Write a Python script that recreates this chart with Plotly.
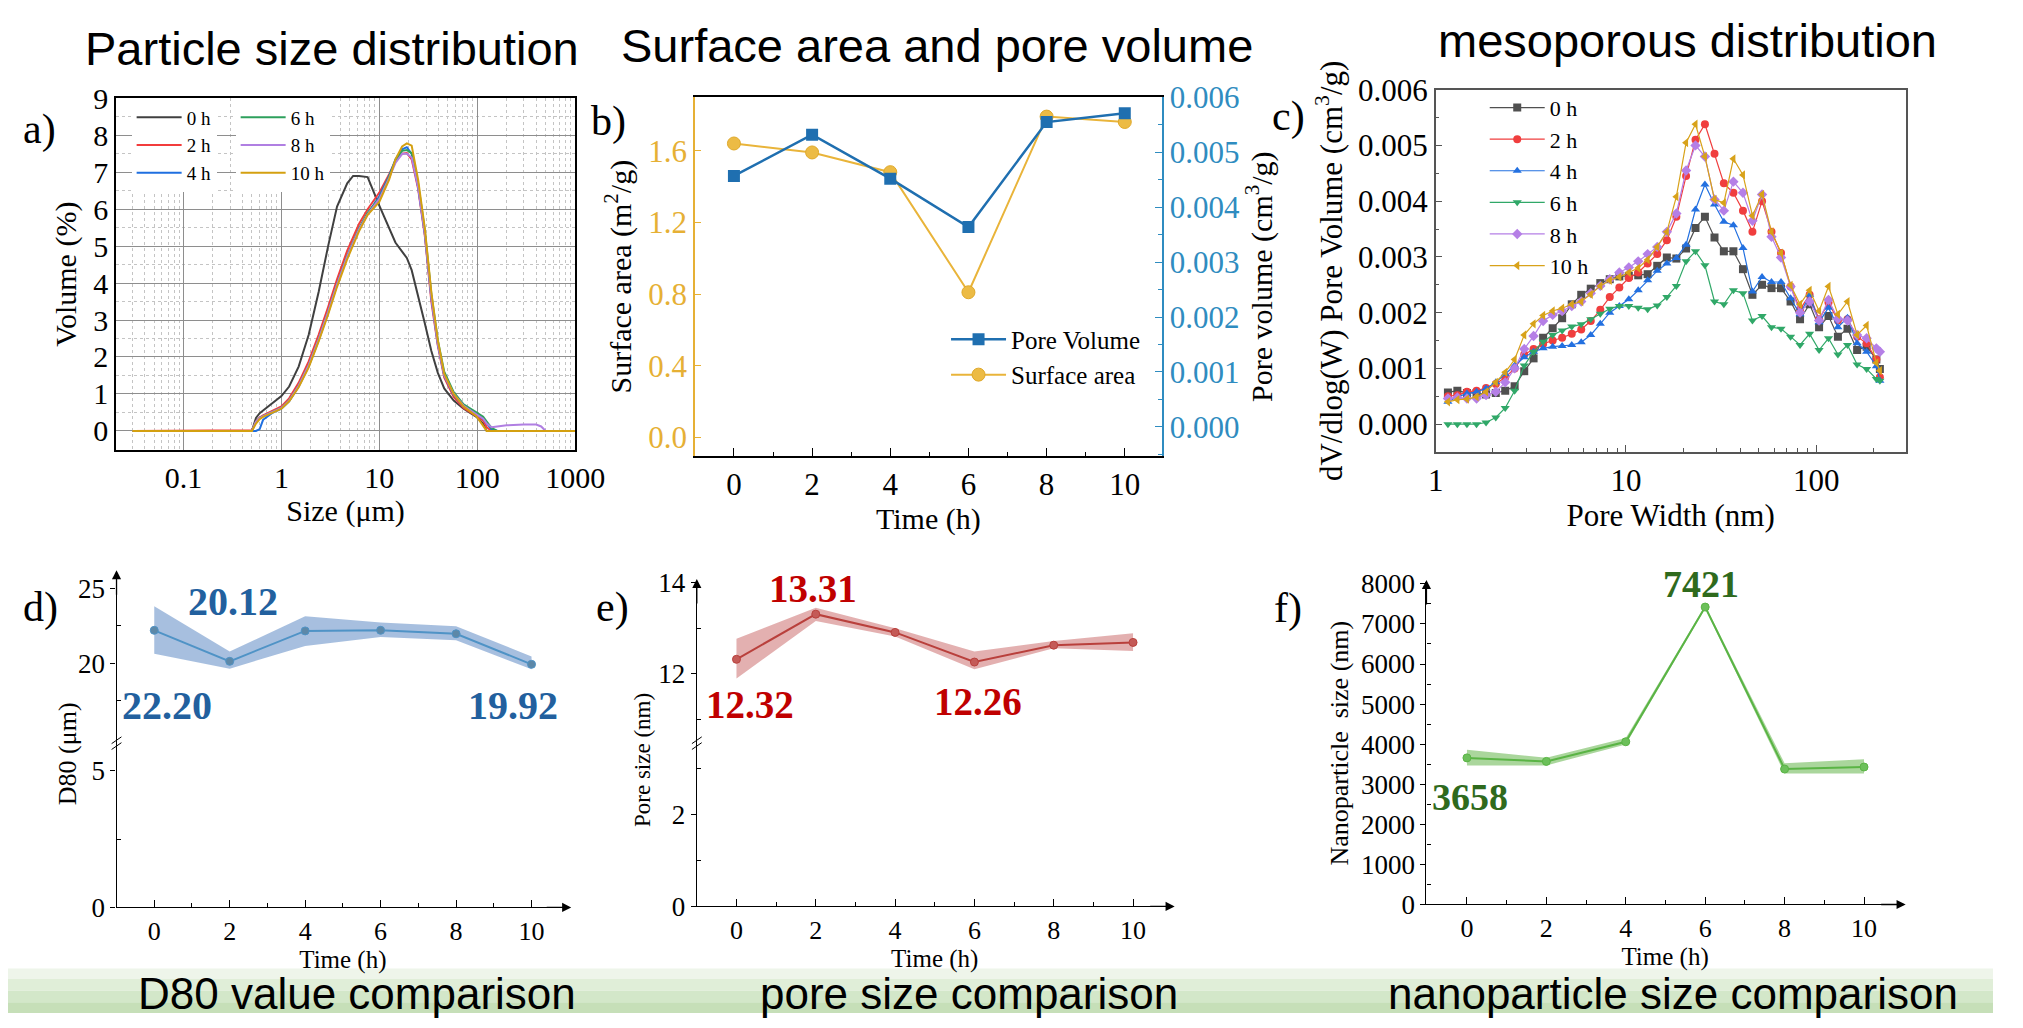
import plotly.graph_objects as go

W, H = 2023, 1028
def px(x): return x / W
def py(y): return 1 - y / H

SERIF = "Liberation Serif, Times New Roman, serif"
SANS = "Liberation Sans, Arial, sans-serif"

# ---------------- data ----------------
hour_labels = ["0 h", "2 h", "4 h", "6 h", "8 h", "10 h"]

# (a) particle size distribution
size_um = [0.03, 0.1, 0.3, 0.5, 0.55, 0.6, 0.65, 0.8, 1.0, 1.2, 1.5, 1.9, 2.4, 3.0, 3.7, 4.7, 5.4, 6.2, 7.6, 10,
           12.6, 14.6, 17.1, 19.1, 21.4, 24.9, 29.1, 34, 39.6, 46, 57.5, 72.6, 98, 115, 125, 140, 160, 200, 300, 400,
           450, 500, 1000]
vol_0h = [0, 0, 0, 0, 0.35, 0.48, 0.55, 0.75, 0.94, 1.2, 1.74, 2.6, 3.76, 5.0, 6.07, 6.7, 6.9, 6.9, 6.87, 6.1,
          5.5, 5.1, 4.85, 4.68, 4.35, 3.67, 2.92, 2.16, 1.57, 1.15, 0.82, 0.6, 0.38, 0.2, 0, 0, 0, 0, 0, 0, 0, 0, 0]
vol_2h = [0, 0, 0, 0.02, 0.25, 0.36, 0.42, 0.53, 0.66, 0.88, 1.3, 1.88, 2.6, 3.35, 4.1, 4.88, 5.25, 5.6, 6.0, 6.45,
          6.95, 7.3, 7.5, 7.52, 7.35, 6.55, 5.3, 3.5, 2.3, 1.45, 0.92, 0.62, 0.4, 0.28, 0.1, 0, 0, 0, 0, 0, 0, 0, 0]
vol_4h = [0, 0, 0, 0, 0, 0.05, 0.3, 0.48, 0.6, 0.8, 1.2, 1.75, 2.45, 3.2, 3.95, 4.72, 5.1, 5.45, 5.88, 6.35,
          6.9, 7.35, 7.62, 7.68, 7.5, 6.6, 5.35, 3.6, 2.35, 1.5, 0.98, 0.66, 0.45, 0.33, 0.2, 0.05, 0, 0, 0, 0, 0, 0, 0]
vol_6h = [0, 0, 0, 0, 0.25, 0.35, 0.4, 0.5, 0.62, 0.82, 1.22, 1.78, 2.48, 3.22, 3.97, 4.74, 5.12, 5.48, 5.9, 6.3,
          6.88, 7.3, 7.58, 7.6, 7.52, 6.7, 5.45, 3.7, 2.45, 1.6, 1.05, 0.72, 0.5, 0.38, 0.25, 0.08, 0, 0, 0, 0, 0, 0, 0]
vol_8h = [0, 0, 0, 0, 0.25, 0.35, 0.4, 0.5, 0.62, 0.82, 1.22, 1.78, 2.48, 3.22, 3.97, 4.72, 5.1, 5.45, 5.86, 6.28,
          6.85, 7.25, 7.5, 7.5, 7.4, 6.6, 5.35, 3.6, 2.35, 1.5, 1.0, 0.68, 0.45, 0.33, 0.2, 0.1, 0.12, 0.15, 0.17, 0.17,
          0.12, 0, 0]
vol_10h = [0, 0, 0, 0, 0.2, 0.32, 0.38, 0.48, 0.6, 0.8, 1.18, 1.72, 2.42, 3.15, 3.9, 4.65, 5.05, 5.4, 5.85, 6.2,
           6.8, 7.35, 7.7, 7.78, 7.72, 6.8, 5.5, 3.75, 2.45, 1.55, 1.0, 0.66, 0.4, 0.15, 0, 0, 0, 0, 0, 0, 0, 0, 0]

# (b) surface area and pore volume
time_h = [0, 2, 4, 6, 8, 10]
surface_area = [1.64, 1.59, 1.48, 0.81, 1.79, 1.76]
pore_volume = [0.00457, 0.00532, 0.00452, 0.00364, 0.00555, 0.00571]

# (c) mesoporous distribution
pore_width_nm = [1.16, 1.30, 1.46, 1.64, 1.84, 2.07, 2.32, 2.60, 2.92, 3.27,
                 3.67, 4.12, 4.62, 5.19, 5.82, 6.53, 7.33, 8.22, 9.23, 10.35,
                 11.6, 13.0, 14.6, 16.4, 18.4, 20.7, 23.2, 26.0, 29.2, 32.7,
                 36.7, 41.2, 46.2, 51.9, 58.2, 65.3, 73.3, 82.2, 92.3, 103.5,
                 116, 130, 146, 164, 184, 207, 216]
dv_0h = [.00057, .0006, .00056, .00056, .00053, .00056, .0006, .00068, .00095, .00118,
         .00155, .00172, .0019, .00215, .00232, .00243, .00253, .0026, .00265, .00266,
         .00267, .00269, .00284, .00299, .00297, .00315, .00352, .00372, .00335, .0031,
         .0031, .00278, .00232, .0025, .00244, .00244, .0022, .00188, .00215, .00174,
         .00194, .00157, .00171, .00133, .00139, .00116, .00099]
dv_2h = [.0005, .00052, .00058, .0006, .00065, .00072, .00084, .001, .00125, .00135,
         .00144, .0015, .00155, .00162, .0017, .00185, .00205, .00228, .00245, .00262,
         .00272, .00288, .00305, .0033, .00372, .00445, .0051, .00538, .00485, .00432,
         .00415, .00383, .00345, .004, .00345, .00307, .00247, .00206, .00232, .00188,
         .00218, .00186, .00188, .00157, .00145, .00116, .00084]
dv_4h = [.0004, .00049, .00055, .00058, .00064, .00075, .0009, .00105, .0012, .0013,
         .00136, .00139, .0014, .00142, .00147, .0016, .0018, .002, .00212, .00224,
         .0024, .00258, .00275, .00288, .00298, .00322, .00385, .0043, .00394, .00363,
         .00357, .00316, .00238, .00264, .00255, .00255, .00226, .00197, .00232, .00183,
         .00209, .00174, .00191, .00145, .0013, .00104, .00078]
dv_6h = [0.0, 0.0, 0.0, 0.0, .00003, .00012, .00029, .0006, .00105, .0013,
         .00148, .0016, .00168, .00175, .00179, .00188, .00198, .00207, .00212, .00212,
         .00209, .00206, .00213, .00228, .00248, .00292, .0031, .00285, .0022, .00215,
         .0024, .00235, .00186, .00194, .00174, .00171, .00157, .00142, .00162, .00133,
         .00154, .00125, .00142, .00107, .00099, .00081, .00078]
dv_8h = [.00046, .00048, .00046, .00046, .00052, .00058, .00075, .001, .00135, .00158,
         .00185, .00196, .00203, .00212, .0022, .00235, .00248, .0026, .00272, .00281,
         .00292, .00305, .00318, .00345, .00378, .00455, .005, .0048, .00403, .00383,
         .00435, .00415, .00365, .00412, .00336, .00299, .00247, .002, .0022, .00186,
         .00223, .00189, .00186, .0016, .00154, .00136, .0013]
dv_10h = [.0004, .00044, .00045, .00049, .00058, .00075, .00093, .00116, .0016, .0018,
          .00195, .00203, .00208, .00215, .0022, .00233, .00248, .00258, .00264, .00272,
          .0028, .00295, .00318, .00345, .00408, .00505, .00538, .0048, .00403, .00397,
          .00476, .00447, .00374, .00412, .00345, .00307, .00249, .00215, .0024, .00203,
          .00247, .00197, .0022, .0016, .00177, .0011, .00096]

# (d) D80
d80 = [22.20, 20.12, 22.16, 22.20, 21.97, 19.92]
d80_hi = [23.81, 20.78, 23.14, 22.73, 22.47, 20.45]
d80_lo = [20.63, 19.63, 21.15, 21.75, 21.54, 19.59]

# (e) pore size
pore_size = [12.32, 13.31, 12.91, 12.26, 12.63, 12.69]
pore_hi = [12.77, 13.45, 13.00, 12.49, 12.72, 12.89]
pore_lo = [11.90, 13.16, 12.82, 12.10, 12.56, 12.50]

# (f) nanoparticle size
nano = [3658, 3570, 4060, 7421, 3380, 3430]
nano_hi = [3863, 3660, 4153, 7460, 3524, 3621]
nano_lo = [3468, 3470, 3992, 7385, 3266, 3266]

# ---------------- figure ----------------
fig = go.Figure()

# (a)
psd_series = [vol_0h, vol_2h, vol_4h, vol_6h, vol_8h, vol_10h]
psd_colors = ["#404040", "#f23c3c", "#1f6fe0", "#2ea05c", "#b07fe2", "#d4a010"]
for i, (ys, c) in enumerate(zip(psd_series, psd_colors)):
    fig.add_trace(go.Scatter(x=size_um, y=ys, mode="lines", name=hour_labels[i],
                             line=dict(color=c, width=2), xaxis="x", yaxis="y",
                             legend="legend" if i < 3 else "legend2"))

# (b)
fig.add_trace(go.Scatter(x=time_h, y=pore_volume, mode="lines+markers", name="Pore Volume",
                         line=dict(color="#1f6fb0", width=2.5),
                         marker=dict(symbol="square", size=12, color="#1f6fb0"),
                         xaxis="x2", yaxis="y3", legend="legend3"))
fig.add_trace(go.Scatter(x=time_h, y=surface_area, mode="lines+markers", name="Surface area",
                         line=dict(color="#e9b43a", width=2),
                         marker=dict(symbol="circle", size=13, color="#ecbb45",
                                     line=dict(color="#e0a92a", width=1)),
                         xaxis="x2", yaxis="y2", legend="legend3"))

# (c)
dv_series = [dv_0h, dv_2h, dv_4h, dv_6h, dv_8h, dv_10h]
dv_colors = ["#505050", "#f03e3e", "#2370e0", "#30a868", "#b57fe6", "#d8a21a"]
dv_symbols = ["square", "circle", "triangle-up", "triangle-down", "diamond", "triangle-left"]
for i in range(6):
    fig.add_trace(go.Scatter(x=pore_width_nm, y=dv_series[i], mode="lines+markers", name=hour_labels[i],
                             line=dict(color=dv_colors[i], width=1.2),
                             marker=dict(symbol=dv_symbols[i], size=8, color=dv_colors[i]),
                             xaxis="x3", yaxis="y4", legend="legend4"))

# empty traces so that the lower segments of the broken axes exist as subplots
for xa, ya in (("x4", "y5"), ("x5", "y7")):
    fig.add_trace(go.Scatter(x=[None], y=[None], xaxis=xa, yaxis=ya, showlegend=False, hoverinfo="skip"))

# bands helper
def band(xs, ys, hi, lo, xa, ya, fillc, linec, markc):
    fig.add_trace(go.Scatter(x=xs, y=hi, mode="lines", line=dict(width=0, color=fillc),
                             xaxis=xa, yaxis=ya, showlegend=False, hoverinfo="skip"))
    fig.add_trace(go.Scatter(x=xs, y=lo, mode="lines", line=dict(width=0, color=fillc), fill="tonexty",
                             fillcolor=fillc, xaxis=xa, yaxis=ya, showlegend=False, hoverinfo="skip"))
    fig.add_trace(go.Scatter(x=xs, y=ys, mode="lines+markers", line=dict(color=linec, width=2),
                             marker=dict(size=8, color=markc, line=dict(color=linec, width=1)),
                             xaxis=xa, yaxis=ya, showlegend=False))

band(time_h, d80, d80_hi, d80_lo, "x4", "y6", "rgba(80,128,192,0.5)", "#4f93c6", "#5d88a8")
band(time_h, pore_size, pore_hi, pore_lo, "x5", "y8", "rgba(192,80,80,0.45)", "#b9403c", "#c45a57")
band(time_h, nano, nano_hi, nano_lo, "x6", "y9", "rgba(100,180,75,0.55)", "#5ab445", "#6cc05a")

# ---------------- axes ----------------
tickf = lambda s, c="black": dict(family=SERIF, size=s, color=c)
titlef = lambda s, c="black": dict(family=SERIF, size=s, color=c)

log_minor = [m * 10 ** e for e in range(-2, 3) for m in range(2, 10)]

lay = dict(
    width=W, height=H, margin=dict(l=0, r=0, t=0, b=0),
    font=dict(family=SERIF, color="black"),
    paper_bgcolor="white", plot_bgcolor="rgba(0,0,0,0)", showlegend=True,
    # (a)
    xaxis=dict(type="log", range=[-1.69, 3.0], domain=[px(110), px(578)], anchor="y",
               showline=True, mirror=True, linecolor="black", linewidth=1.5,
               tickvals=[0.1, 1, 10, 100, 1000], ticktext=["0.1", "1", "10", "100", "1000"],
               ticks="", tickfont=tickf(30),
               showgrid=True, gridcolor="#8e8e8e", gridwidth=1,
               minor=dict(tickvals=log_minor, showgrid=True, gridcolor="#c4c4c4", griddash="dot", ticks=""),
               title=dict(text="Size (μm)", font=titlef(30), standoff=0), zeroline=False),
    yaxis=dict(range=[-0.52, 9], domain=[py(447), py(84)], anchor="x",
               showline=True, mirror=True, linecolor="black", linewidth=1.5,
               dtick=1, tick0=0, ticks="", tickfont=tickf(30),
               showgrid=True, gridcolor="#8e8e8e", gridwidth=1,
               minor=dict(dtick=0.5, tick0=0, showgrid=True, gridcolor="#c4c4c4", griddash="dot", ticks=""),
               title=dict(text="Volume (%)", font=titlef(30), standoff=8), zeroline=False),
    # (b)
    xaxis2=dict(range=[-1, 10.95], domain=[px(700), px(1176)], anchor="y2",
                showline=True, mirror=True, linecolor="black", linewidth=1.5,
                tickvals=[0, 2, 4, 6, 8, 10], ticks="inside", ticklen=8, tickcolor="black",
                minor=dict(dtick=1, tick0=0, ticks="inside", ticklen=4, tickcolor="black"),
                tickfont=tickf(31), showgrid=False, zeroline=False,
                title=dict(text="Time (h)", font=titlef(30), standoff=0)),
    yaxis2=dict(range=[-0.103, 1.897], domain=[py(453), py(83)], anchor="x2",
                showline=True, linecolor="#e6b035", linewidth=1.5,
                tickvals=[0, 0.4, 0.8, 1.2, 1.6], tickformat=".1f",
                ticks="inside", ticklen=6, tickcolor="#e6b035",
                tickfont=tickf(31, "#e6b035"), showgrid=False, zeroline=False,
                title=dict(text="Surface area (m<sup>2</sup>/g)", font=titlef(30), standoff=8)),
    yaxis3=dict(range=[-0.00053, 0.006], overlaying="y2", side="right", anchor="x2",
                showline=True, linecolor="#2f8cc0", linewidth=1.5,
                dtick=0.001, tick0=0, tickformat=".3f",
                ticks="inside", ticklen=7, tickcolor="#2f8cc0",
                minor=dict(dtick=0.0005, tick0=0, ticks="inside", ticklen=4, tickcolor="#2f8cc0"),
                tickfont=tickf(31, "#2f8cc0"), showgrid=False, zeroline=False,
                title=dict(text="Pore volume (cm<sup>3</sup>/g)", font=titlef(30), standoff=6)),
    # (c)
    xaxis3=dict(type="log", range=[0, 2.47], domain=[px(1455), px(1934)], anchor="y4",
                showline=True, mirror=True, linecolor="#555555", linewidth=1.5,
                tickvals=[1, 10, 100], ticktext=["1", "10", "100"],
                ticks="inside", ticklen=7, tickcolor="#555555",
                minor=dict(tickvals=log_minor, ticks="inside", ticklen=4, tickcolor="#555555"),
                tickfont=tickf(31), showgrid=False, zeroline=False,
                title=dict(text="Pore Width (nm)", font=titlef(31), standoff=0)),
    yaxis4=dict(range=[-0.0005, 0.006], domain=[py(449), py(75)], anchor="x3",
                showline=True, mirror=True, linecolor="#555555", linewidth=1.5,
                dtick=0.001, tick0=0, tickformat=".3f",
                ticks="inside", ticklen=7, tickcolor="#555555",
                minor=dict(dtick=0.0005, tick0=0, ticks="inside", ticklen=4, tickcolor="#555555"),
                tickfont=tickf(31), showgrid=False, zeroline=False,
                title=dict(text="dV/dlog(W) Pore Volume (cm<sup>3</sup>/g)", font=titlef(31), standoff=6)),
)

def bottom_x(dom, anchor):
    return dict(range=[-1, 11], domain=dom, anchor=anchor, showline=True, linecolor="black", linewidth=1.3,
                tickvals=[0, 2, 4, 6, 8, 10], ticks="inside", ticklen=7, tickcolor="black",
                minor=dict(dtick=1, tick0=0, ticks="inside", ticklen=4, tickcolor="black"),
                tickfont=tickf(26), showgrid=False, zeroline=False,
                title=dict(text="Time (h)", font=titlef(25), standoff=5))

def bottom_y(rng, dom, anchor, tv, mv, title=None, tsize=26):
    d = dict(range=rng, domain=dom, anchor=anchor, showline=True, linecolor="black", linewidth=1.3,
             tickvals=tv, ticks="outside", ticklen=5, tickcolor="black",
             minor=dict(tickvals=mv, ticks="inside", ticklen=4, tickcolor="black"),
             tickfont=tickf(27), showgrid=False, zeroline=False)
    if title:
        d["title"] = dict(text=title, font=titlef(tsize), standoff=4)
    return d

lay["xaxis4"] = bottom_x([px(110.6), px(572)], "y5")
lay["yaxis5"] = bottom_y([0, 6], [py(919), py(750)], "x4", [0, 5], [2.5])
lay["yaxis6"] = bottom_y([14.6, 26.1], [py(750), py(573)], "x4", [20, 25], [17.5, 22.5])
lay["xaxis5"] = bottom_x([px(702), px(1187)], "y7")
lay["yaxis7"] = bottom_y([0, 3.54], [py(918), py(750)], "x5", [0, 2], [1, 3])
lay["yaxis8"] = bottom_y([10.47, 14.04], [py(750), py(582)], "x5", [12, 14], [11, 13])
lay["xaxis6"] = bottom_x([px(1445.6), px(1932)], "y9")
lay["xaxis6"]["range"] = [-1.02, 11]
lay["yaxis9"] = bottom_y([0, 8050], [py(916), py(583)], "x6", list(range(0, 8001, 1000)),
                         list(range(500, 8000, 1000)), title="Nanoparticle  size (nm)", tsize=26)

# legends
leg_common = dict(bgcolor="rgba(255,255,255,1)", borderwidth=0, font=dict(family=SERIF, size=19, color="black"),
                  tracegroupgap=0, itemwidth=45, xanchor="left", yanchor="top", traceorder="normal")
lay["legend"] = dict(leg_common, x=px(126), y=py(84))
lay["legend2"] = dict(leg_common, x=px(232), y=py(84))
lay["legend3"] = dict(leg_common, x=px(956), y=py(309), font=dict(family=SERIF, size=25, color="black"),
                      bgcolor="rgba(0,0,0,0)", itemwidth=55)
lay["legend4"] = dict(leg_common, x=px(1505), y=py(72), font=dict(family=SERIF, size=22, color="black"),
                      bgcolor="rgba(0,0,0,0)", itemwidth=55)

fig.update_layout(**lay)

# ---------------- annotations ----------------
ann = []
def text(x, y, s, size, family=SERIF, color="black", bold=False, xanchor="center"):
    if bold:
        s = "<b>" + s + "</b>"
    ann.append(dict(x=px(x), y=py(y), xref="paper", yref="paper", text=s, showarrow=False,
                    font=dict(family=family, size=size, color=color), xanchor=xanchor, yanchor="middle"))

text(330, 32, "Particle size distribution", 47, SANS)
text(947, 29, "Surface area and pore volume", 47, SANS)
text(1712, 24, "mesoporous distribution", 47, SANS)
text(32, 116, "a)", 42)
text(612, 108, "b)", 42)
text(1305, 103, "c)", 42)
text(33, 609, "d)", 42)
text(616, 609, "e)", 42)
text(1305, 610, "f)", 42)

# y labels of the broken axes (span both segments)
ann.append(dict(x=px(60), y=py(760), xref="paper", yref="paper", text="D80 (μm)", textangle=-90,
                showarrow=False, xanchor="center", yanchor="middle",
                font=dict(family=SERIF, size=26, color="black")))
ann.append(dict(x=px(646), y=py(767), xref="paper", yref="paper", text="Pore size (nm)", textangle=-90,
                showarrow=False, xanchor="center", yanchor="middle",
                font=dict(family=SERIF, size=23, color="black")))

# value labels
blue_l, red_l, green_l = "#22609e", "#c00000", "#2f6a1d"
text(162, 711, f"{d80[0]:.2f}", 40, color=blue_l, bold=True)
text(229, 603, f"{d80[1]:.2f}", 40, color=blue_l, bold=True)
text(515, 711, f"{d80[5]:.2f}", 40, color=blue_l, bold=True)
text(820, 590, f"{pore_size[1]:.2f}", 39, color=red_l, bold=True)
text(756, 710, f"{pore_size[0]:.2f}", 39, color=red_l, bold=True)
text(989, 707, f"{pore_size[3]:.2f}", 39, color=red_l, bold=True)
text(1725, 585, f"{nano[3]}", 38, color=green_l, bold=True)
text(1490, 805, f"{nano[0]}", 38, color=green_l, bold=True)

# banner titles
text(356, 1008, "D80 value comparison", 44, SANS)
text(979, 1008, "pore size comparison", 44, SANS)
text(1697, 1008, "nanoparticle size comparison", 44, SANS)

# axis arrows
for (xa, ya, ax_, ay_) in [(110.6, 571, 0, 26), (574, 919, -26, 0),
                           (702, 580, 0, 26), (1189, 918, -26, 0),
                           (1445.6, 581, 0, 26), (1934, 916, -26, 0)]:
    ann.append(dict(x=px(xa), y=py(ya), xref="paper", yref="paper", ax=ax_, ay=ay_, text="",
                    showarrow=True, arrowhead=2, arrowsize=1.4, arrowwidth=1.3, arrowcolor="black"))

fig.update_layout(annotations=ann)

# ---------------- shapes: banner + axis breaks ----------------
shapes = []
for (y0, y1, c) in [(982, 993, "#eef5ea"), (993, 1005, "#e0eed8"), (1005, 1017, "#d3e7c9"), (1017, 1028, "#c6dfb8")]:
    shapes.append(dict(type="rect", xref="paper", yref="paper", x0=0, x1=1, y0=py(y1), y1=py(y0),
                       fillcolor=c, line=dict(width=0), layer="below"))
for xb in (110.6, 702):
    for dy in (-3, 3):
        shapes.append(dict(type="line", xref="paper", yref="paper",
                           x0=px(xb - 5), y0=py(753 + dy), x1=px(xb + 5), y1=py(746 + dy),
                           line=dict(color="black", width=1)))
fig.update_layout(shapes=shapes)

fig.write_html("out.html")
